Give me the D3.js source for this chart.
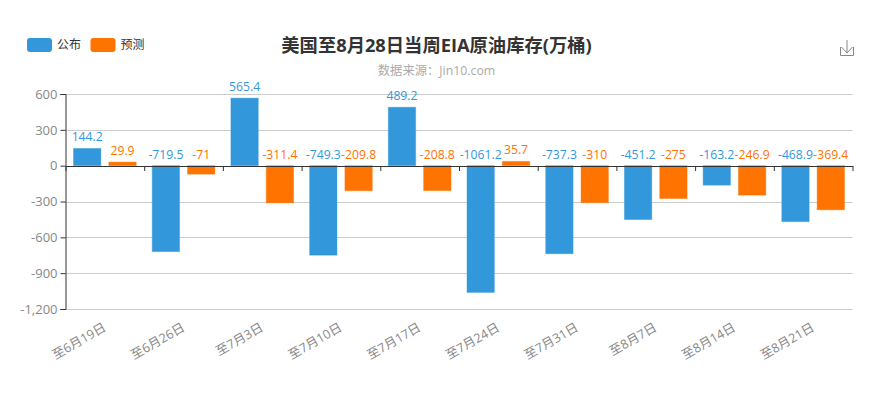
<!DOCTYPE html>
<html>
<head>
<meta charset="utf-8">
<script src="https://cdn.jsdelivr.net/npm/d3@7"></script>
<style>
    body { margin: 0; background: #fff; }
    svg { display: block; }
    text { font-family: "Open Sans", "Noto Sans CJK SC", sans-serif; }
</style>
</head>
<body>
<div id="chart"></div>
<script>
// data
const categories = ["至6月19日", "至6月26日", "至7月3日", "至7月10日", "至7月17日", "至7月24日", "至7月31日", "至8月7日", "至8月14日", "至8月21日"];
const published = [144.2, -719.5, 565.4, -749.3, 489.2, -1061.2, -737.3, -451.2, -163.2, -468.9];
const forecast = [29.9, -71, -311.4, -209.8, -208.8, 35.7, -310, -275, -246.9, -369.4];
const yTicks = [600, 300, 0, -300, -600, -900, -1200];
const seriesNames = ["公布", "预测"];
const seriesColors = ["#3398DB", "#FF7300"];

const width = 875, height = 394;
const margin = {top: 94, right: 22.5, bottom: 85, left: 65.5};
const innerW = width - margin.left - margin.right;
const innerH = height - margin.top - margin.bottom;

const svg = d3.select("#chart").append("svg")
    .attr("width", width)
    .attr("height", height);

const g = svg.append("g")
    .attr("transform", "translate(" + margin.left + "," + margin.top + ")");

// scales
const x = d3.scaleBand().domain(categories).range([0, innerW]);
const xEdge = d3.scaleLinear().domain([0, categories.length]).range([0, innerW]);
const xInner = d3.scaleBand().domain([0, 1]).range([8, x.bandwidth() - 8]).paddingInner(0.225);
const y = d3.scaleLinear().domain([-1200, 600]).range([innerH, 0]);

// grid
g.append("g")
    .selectAll("line")
    .data(yTicks)
    .join("line")
    .attr("x1", 0)
    .attr("x2", innerW)
    .attr("y1", d => Math.round(y(d)) + 0.5)
    .attr("y2", d => Math.round(y(d)) + 0.5)
    .attr("stroke", "#ccc");

// y axis
const yAxis = g.append("g")
    .call(d3.axisLeft(y).tickValues(yTicks).tickSize(5).tickFormat(d => d3.format(",")(d).replace("−", "-")));
yAxis.select(".domain").attr("stroke", "#333");
yAxis.selectAll("line").attr("stroke", "#333");
yAxis.selectAll("text")
    .attr("fill", "#888")
    .attr("font-size", 13)
    .attr("x", -8);

// bars
[published, forecast].forEach((values, s) => {
    const group = g.append("g").attr("class", "series-" + s);

    group.selectAll("rect")
        .data(values)
        .join("rect")
        .attr("x", (d, i) => x(categories[i]) + xInner(s))
        .attr("y", d => y(Math.max(d, 0)))
        .attr("width", xInner.bandwidth())
        .attr("height", d => Math.abs(y(d) - y(0)))
        .attr("fill", seriesColors[s])
        .attr("stroke", seriesColors[s])
        .attr("stroke-opacity", 0.4)
        .attr("stroke-width", 1);

    group.selectAll("text")
        .data(values)
        .join("text")
        .attr("x", (d, i) => x(categories[i]) + xInner(s) + xInner.bandwidth() / 2)
        .attr("y", d => y(Math.max(d, 0)) - 7)
        .attr("text-anchor", "middle")
        .attr("font-size", 12.2)
        .attr("fill", seriesColors[s])
        .text(d => d);
});

// x axis sits on the zero line, ticks on the band edges
const xAxis = g.append("g")
    .attr("transform", "translate(0," + Math.round(y(0)) + ")")
    .call(d3.axisBottom(xEdge).tickValues(d3.range(categories.length + 1)).tickSize(5).tickSizeOuter(0).tickFormat(""));
xAxis.select(".domain").attr("stroke", "#333");
xAxis.selectAll("line").attr("stroke", "#333");

// category labels at the bottom, rotated
const xLabels = g.append("g")
    .attr("transform", "translate(0," + innerH + ")")
    .call(d3.axisBottom(x).tickSize(0));
xLabels.select(".domain").remove();
xLabels.selectAll("text")
    .attr("font-size", 12.6)
    .attr("fill", "#888")
    .attr("text-anchor", "end")
    .attr("y", 0)
    .attr("dy", 0)
    .attr("transform", "translate(2,21) rotate(-30)");

// legend
const legendX = [27, 90.5];
const legend = svg.append("g")
    .selectAll("g")
    .data(seriesNames)
    .join("g")
    .attr("transform", (d, i) => "translate(" + legendX[i] + ",38)");
legend.append("rect")
    .attr("width", 25)
    .attr("height", 14)
    .attr("rx", 3)
    .attr("fill", (d, i) => seriesColors[i]);
legend.append("text")
    .attr("x", 30)
    .attr("y", 10.5)
    .attr("font-size", 12)
    .attr("fill", "#333")
    .text(d => d);

// title
svg.append("text")
    .attr("x", 436.5)
    .attr("y", 52)
    .attr("text-anchor", "middle")
    .attr("font-size", 18.3)
    .attr("font-weight", "bold")
    .attr("fill", "#333")
    .text("美国至8月28日当周EIA原油库存(万桶)");

svg.append("text")
    .attr("x", 436.5)
    .attr("y", 75)
    .attr("text-anchor", "middle")
    .attr("font-size", 12.3)
    .attr("fill", "#aaa")
    .text("数据来源：Jin10.com");

// download icon
svg.append("path")
    .attr("d", "M847 40V53M841.5 47L847 53L852.5 47M840.5 47V55.5H853.5V47")
    .attr("fill", "none")
    .attr("stroke", "#888")
    .attr("stroke-width", 1);
</script>
</body>
</html>
